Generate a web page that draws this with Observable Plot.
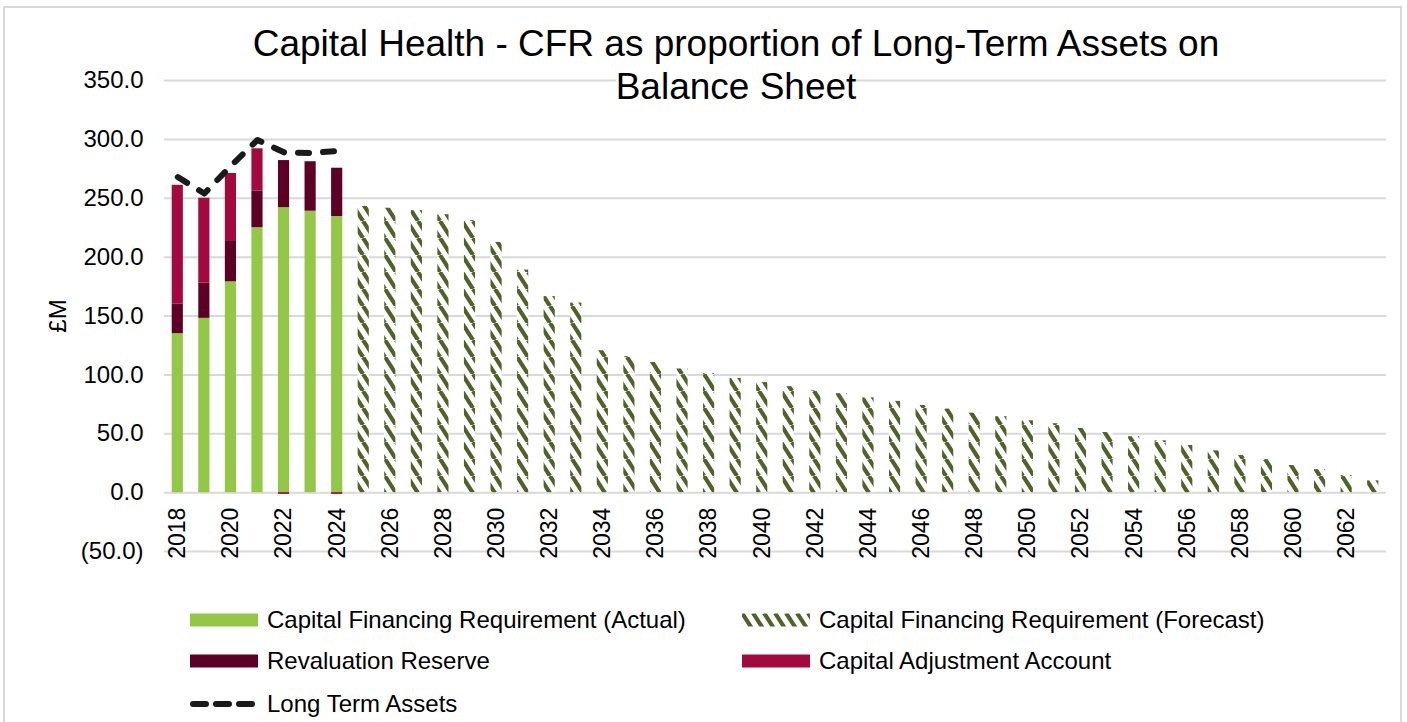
<!DOCTYPE html>
<html>
<head>
<meta charset="utf-8">
<script src="https://cdn.jsdelivr.net/npm/d3@7"></script>
<script src="https://cdn.jsdelivr.net/npm/@observablehq/plot@0.6"></script>
<style>
  body { margin: 0; background: #fff; font-family: "Liberation Sans", Arial, sans-serif; color: #000; }
  #wrap { position: relative; width: 1407px; height: 722px; overflow: hidden; background: #fff; }
  #frame { position: absolute; left: 3px; top: 6px; width: 1399px; height: 740px; border: 2px solid #d9d9d9; box-sizing: border-box; }
  #chart { position: absolute; left: 0; top: 0; }
  #title { position: absolute; left: 236px; top: 22px; width: 1000px; text-align: center; font-size: 37px; line-height: 43px; color: #000; }
  #title span { background: #fff; }
  #ylabel { position: absolute; left: 58px; top: 316px; transform: translate(-50%, -50%) rotate(-90deg); font-size: 24px; white-space: nowrap; }
  .leg { position: absolute; height: 30px; display: flex; align-items: center; gap: 9px; font-size: 24px; line-height: 30px; white-space: nowrap; }
  .leg svg { display: block; }
</style>
</head>
<body>
<div id="wrap">
  <div id="frame"></div>
  <div id="chart"></div>
  <div id="title"><span>Capital Health - CFR as proportion of Long-Term Assets on</span><br><span>Balance Sheet</span></div>
  <div id="ylabel">£M</div>
  <div id="legend"></div>
</div>
<script>
// ---- Data ----
const actualYears = [2018, 2019, 2020, 2021, 2022, 2023, 2024];
const cfrActual = [135, 148, 179, 225, 242, 239, 234.5];
const revaluationReserve = [25, 30, 35, 31, 40, 42, 41];
const capitalAdjustment = [101, 72, 57, 36, -1.5, 0, -1.5];
const longTermAssets = [268, 254, 277.5, 299.5, 289, 288.5, 290];

const forecastYears = [2025, 2026, 2027, 2028, 2029, 2030, 2031, 2032, 2033, 2034,
  2035, 2036, 2037, 2038, 2039, 2040, 2041, 2042, 2043, 2044,
  2045, 2046, 2047, 2048, 2049, 2050, 2051, 2052, 2053, 2054,
  2055, 2056, 2057, 2058, 2059, 2060, 2061, 2062, 2063];
const cfrForecast = [243, 241.5, 239.5, 236, 231, 212.5, 189, 166.5, 161, 120.5,
  115.5, 110.5, 105, 101, 97, 93.5, 90, 86.5, 84, 80.5,
  77.5, 74, 71, 67.5, 64.5, 61, 58.5, 54.5, 51, 47.5,
  44, 40, 35.5, 31.5, 28, 23, 19.5, 14.5, 10];

const xTickLabels = [2018, 2020, 2022, 2024, 2026, 2028, 2030, 2032, 2034, 2036, 2038, 2040,
  2042, 2044, 2046, 2048, 2050, 2052, 2054, 2056, 2058, 2060, 2062];
const yTicks = [-50, 0, 50, 100, 150, 200, 250, 300, 350];

const seriesNames = ["Capital Financing Requirement (Actual)", "Revaluation Reserve", "Capital Adjustment Account"];
const seriesColors = ["#93c847", "#5e0026", "#a3093f"];
const forecastName = "Capital Financing Requirement (Forecast)";
const lineName = "Long Term Assets";
const hatchColor = "#4f6228";

// ---- Tables built from the arrays ----
const allYears = actualYears.concat(forecastYears);
const stacked = [];
actualYears.forEach((yr, i) => {
  stacked.push({year: yr, series: seriesNames[0], value: cfrActual[i]});
  stacked.push({year: yr, series: seriesNames[1], value: revaluationReserve[i]});
  stacked.push({year: yr, series: seriesNames[2], value: capitalAdjustment[i]});
});
const forecast = forecastYears.map((yr, i) => ({year: yr, value: cfrForecast[i]}));
const lta = actualYears.map((yr, i) => ({year: yr, value: longTermAssets[i]}));

const fmt = d => d < 0 ? `(${(-d).toFixed(1)})` : d.toFixed(1);

const hatchDef = (id) => `<pattern id="${id}" patternUnits="userSpaceOnUse" width="11" height="17">
  <rect width="11" height="17" fill="#fff"/>
  <path d="M-11,0L0,17M0,0L11,17M11,0L22,17" stroke="${hatchColor}" stroke-width="4.2" fill="none"/>
</pattern>`;

const chart = Plot.plot({
  width: 1407,
  height: 600,
  marginTop: 80,
  marginBottom: 49,
  marginLeft: 164,
  marginRight: 21,
  style: {fontFamily: "Liberation Sans, Arial, sans-serif", fontSize: "24px", color: "#000", background: "transparent", overflow: "visible"},
  x: {type: "band", domain: allYears, paddingInner: 0.58, paddingOuter: 0.29, round: false, axis: null},
  y: {domain: [-50, 350], axis: null},
  color: {domain: seriesNames, range: seriesColors},
  marks: [
    Plot.gridY(yTicks, {stroke: "#d9d9d9", strokeOpacity: 1, strokeWidth: 2}),
    Plot.axisY(yTicks, {tickSize: 0, tickPadding: 21, tickFormat: fmt, fontSize: 24, fill: "#000", label: null}),
    Plot.barY(stacked, {x: "year", y: "value", fill: "series", order: seriesNames}),
    Plot.barY(forecast, {x: "year", y: "value", fill: "url(#cfrHatch)"}),
    Plot.line(lta, {x: "year", y: "value", stroke: "#1a1a1a", strokeWidth: 6,
      strokeDasharray: "11,14", strokeLinecap: "round", strokeLinejoin: "round"}),
    Plot.text(xTickLabels, {x: d => d, y: 0, text: d => String(d), rotate: -90,
      textAnchor: "end", dy: 15, fontSize: 23, fill: "#000"})
  ]
});

const defs = document.createElementNS("http://www.w3.org/2000/svg", "defs");
defs.innerHTML = hatchDef("cfrHatch");
chart.insertBefore(defs, chart.firstChild);
document.getElementById("chart").appendChild(chart);

// ---- Legend ----
const legend = d3.select("#legend");
const legendItems = [
  {label: seriesNames[0], kind: "solid", color: seriesColors[0], left: 190, cy: 620},
  {label: forecastName, kind: "hatch", color: null, left: 742, cy: 620},
  {label: seriesNames[1], kind: "solid", color: seriesColors[1], left: 190, cy: 661},
  {label: seriesNames[2], kind: "solid", color: seriesColors[2], left: 742, cy: 661},
  {label: lineName, kind: "dash", color: "#1a1a1a", left: 190, cy: 704}
];
legendItems.forEach((it, k) => {
  const div = legend.append("div").attr("class", "leg")
    .style("left", it.left + "px").style("top", (it.cy - 15) + "px");
  const svg = div.append("svg").attr("width", 68).attr("height", 14);
  if (it.kind === "solid") {
    svg.append("rect").attr("width", 68).attr("height", 13).attr("y", 0.5).attr("fill", it.color);
  } else if (it.kind === "hatch") {
    svg.append("defs").html(hatchDef("legHatch" + k));
    svg.append("rect").attr("width", 68).attr("height", 13).attr("y", 0.5).attr("fill", `url(#legHatch${k})`);
  } else {
    svg.append("line").attr("x1", 3).attr("x2", 65).attr("y1", 7).attr("y2", 7)
      .attr("stroke", it.color).attr("stroke-width", 6).attr("stroke-dasharray", "13,10")
      .attr("stroke-linecap", "round");
  }
  div.append("span").text(it.label);
});
</script>
</body>
</html>
